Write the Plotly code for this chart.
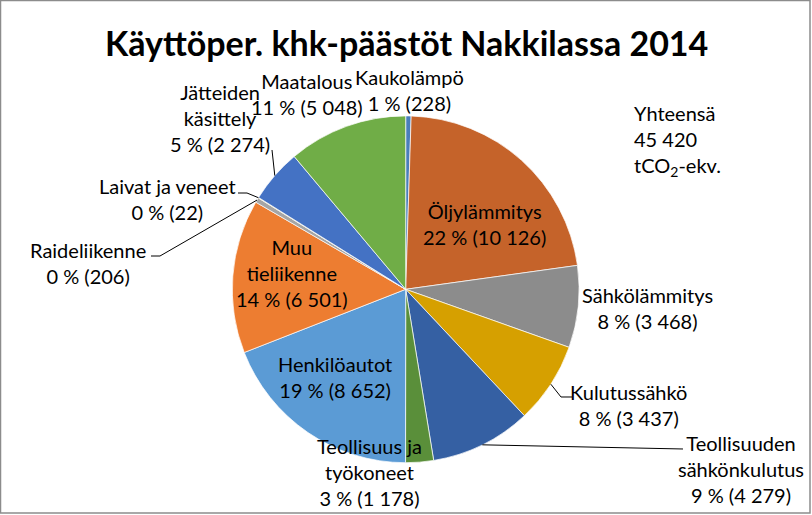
import math
import plotly.graph_objects as go

categories = ["Kaukolämpö", "Öljylämmitys", "Sähkölämmitys", "Kulutussähkö",
              "Teollisuuden sähkönkulutus", "Teollisuus ja työkoneet", "Henkilöautot",
              "Muu tieliikenne", "Raideliikenne", "Laivat ja veneet",
              "Jätteiden käsittely", "Maatalous"]
values = [228, 10126, 3468, 3437, 4279, 1178, 8652, 6501, 206, 22, 2274, 5048]
colors = ["#4A7EBB", "#C5632A", "#8C8C8C", "#D6A000", "#3560A3", "#5A8F3A",
          "#5B9BD5", "#ED7D31", "#A5A5A5", "#E8C020", "#4472C4", "#70AD47"]
label_lines = [["Kaukolämpö"], ["Öljylämmitys"], ["Sähkölämmitys"], ["Kulutussähkö"],
               ["Teollisuuden", "sähkönkulutus"], ["Teollisuus ja", "työkoneet"],
               ["Henkilöautot"], ["Muu", "tieliikenne"], ["Raideliikenne"],
               ["Laivat ja veneet"], ["Jätteiden", "käsittely"], ["Maatalous"]]
title_text = "Käyttöper. khk-päästöt Nakkilassa 2014"
total_lines = ["Yhteensä", "45 420", "tCO<sub>2</sub>-ekv."]

W, H = 812, 515
CX, CY, R = 405.7, 289.3, 173.4

# label block centres (px) and leader-line elbows (px) -- layout only
label_pos = [(409, 90), (485, 224), (647, 308), (628, 405), (741, 469), (369, 472),
             (335, 377), (292, 273), (88, 263), (167, 199), (220, 118), (307, 94)]
leaders = {3: [(561, 397), (572, 397)],
           4: [(683, 449)],
           8: [(160, 256), (151, 256)],
           9: [(247, 193), (238, 193)],
           10: [(272, 150)]}

def fmt(v):
    return f"{v:,}".replace(",", " ")

total = sum(values)

fig = go.Figure()
fig.add_trace(go.Pie(
    labels=categories, values=values, sort=False, direction="clockwise", rotation=0,
    marker=dict(colors=colors, line=dict(color="white", width=0.7)),
    textinfo="none", hoverinfo="label+value+percent", showlegend=False,
    domain=dict(x=[(CX - R) / W, (CX + R) / W], y=[1 - (CY + R) / H, 1 - (CY - R) / H]),
))

font = dict(family="Lato, Calibri, sans-serif", size=20, color="#000000")
annotations = []
for i, (lines, v) in enumerate(zip(label_lines, values)):
    pct = round(100 * v / total)
    txt = "<br>".join(lines + [f"{pct} % ({fmt(v)})"])
    x, y = label_pos[i]
    annotations.append(dict(x=x / W, y=1 - y / H, xref="paper", yref="paper",
                            text=txt, showarrow=False, font=font,
                            xanchor="center", yanchor="middle", align="center"))

annotations.append(dict(x=632 / W, y=1 - 140 / H, xref="paper", yref="paper",
                        text="<br>".join(total_lines), showarrow=False, font=font,
                        xanchor="left", yanchor="middle", align="left"))
annotations.append(dict(x=406 / W, y=1 - 42 / H, xref="paper", yref="paper",
                        text=f"<b>{title_text}</b>", showarrow=False,
                        font=dict(family="Lato, Calibri, sans-serif", size=34, color="#000000"),
                        xanchor="center", yanchor="middle"))

shapes = [dict(type="rect", xref="paper", yref="paper", x0=0.5 / W, x1=1 - 2 / W,
               y0=2 / H, y1=1 - 0.5 / H, line=dict(color="#8C8C8C", width=1.5))]

cum = 0
for i, v in enumerate(values):
    mid = (cum + v / 2) / total
    cum += v
    if i in leaders:
        th = 2 * math.pi * mid
        pts = [(CX + R * math.sin(th), CY - R * math.cos(th))] + leaders[i]
        path = "M " + " L ".join(f"{px / W:.5f},{1 - py / H:.5f}" for px, py in pts)
        shapes.append(dict(type="path", xref="paper", yref="paper", path=path,
                           line=dict(color="#000000", width=1)))

fig.update_layout(width=W, height=H, margin=dict(l=0, r=0, t=0, b=0),
                  paper_bgcolor="white", plot_bgcolor="white",
                  annotations=annotations, shapes=shapes)
fig.write_html("out.html")
